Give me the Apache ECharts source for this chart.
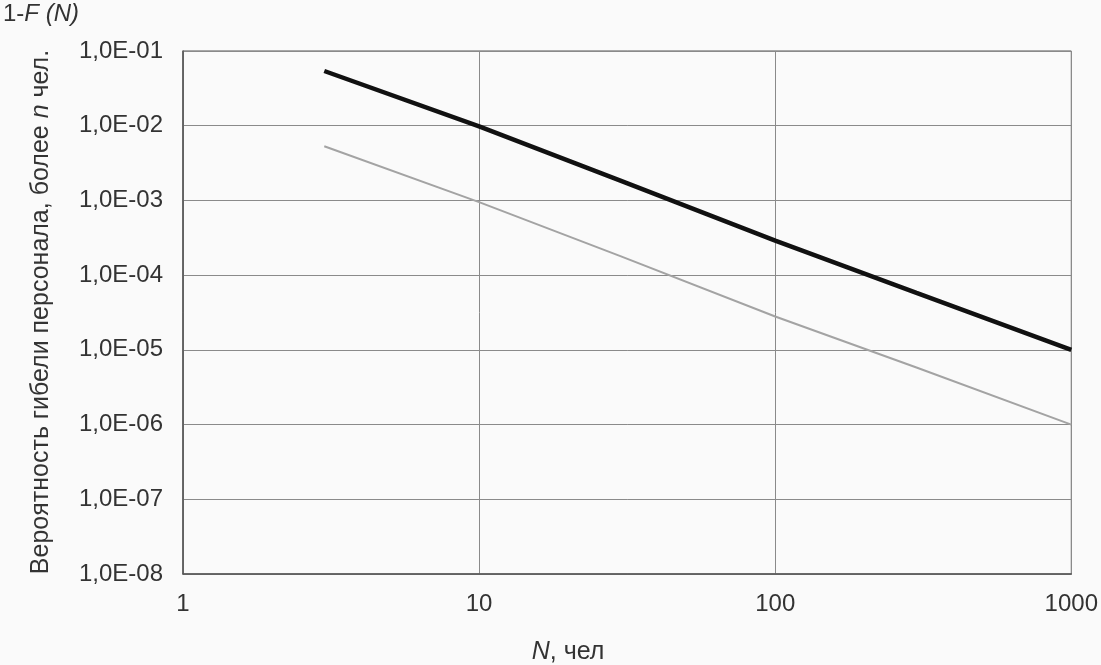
<!DOCTYPE html>
<html>
<head>
<meta charset="utf-8">
<script src="https://cdn.jsdelivr.net/npm/echarts@6/dist/echarts.min.js"></script>
<style>
html,body{margin:0;padding:0;background:#fafafa;}
#c{width:1101px;height:665px;}
</style>
</head>
<body>
<div id="c"></div>
<script>
// Data
const N_values = [3, 10, 30, 100, 300, 1000];
const thickSeries = [0.054, 0.0098, 0.00184, 0.00029, 0.000058, 0.000010];
const thinSeries = [0.0053, 0.00095, 0.00018, 0.000028, 0.0000058, 0.0000010];
const xTicks = [1, 10, 100, 1000];
const yTicks = [1e-8, 1e-7, 1e-6, 1e-5, 1e-4, 1e-3, 1e-2, 1e-1];

const FONT = '"Liberation Sans", Arial, sans-serif';
function fmtY(v) {
  const e = Math.round(Math.log10(v));
  const a = Math.abs(e);
  return '1,0E' + (e < 0 ? '-' : '+') + (a < 10 ? '0' + a : '' + a);
}

const chart = echarts.init(document.getElementById('c'));
chart.setOption({
  backgroundColor: '#fafafa',
  animation: false,
  grid: { left: 183, top: 51, right: 29, bottom: 91, show: true, borderColor: '#555', borderWidth: 1 },
  xAxis: {
    type: 'log', logBase: 10, min: 1, max: 1000,
    axisLine: { show: true, lineStyle: { color: '#555', width: 1.5 } },
    axisTick: { show: false },
    minorTick: { show: false },
    splitLine: { show: true, lineStyle: { color: '#8a8a8a', width: 1 } },
    axisLabel: { color: '#333', fontFamily: FONT, fontSize: 24, margin: 18,
      formatter: v => xTicks.includes(Math.round(v)) ? String(Math.round(v)) : '' }
  },
  yAxis: {
    type: 'log', logBase: 10, min: 1e-8, max: 1e-1,
    axisLine: { show: true, lineStyle: { color: '#555', width: 1.5 } },
    axisTick: { show: false },
    splitLine: { show: true, lineStyle: { color: '#8a8a8a', width: 1 } },
    axisLabel: { color: '#333', fontFamily: FONT, fontSize: 24, margin: 20, formatter: fmtY }
  },
  series: [
    { type: 'line', data: N_values.map((x, i) => [x, thinSeries[i]]), showSymbol: false, symbol: 'none',
      lineStyle: { color: '#a3a3a3', width: 2 } },
    { type: 'line', data: N_values.map((x, i) => [x, thickSeries[i]]), showSymbol: false, symbol: 'none',
      lineStyle: { color: '#111', width: 4.5 } }
  ],
  graphic: [
    { type: 'text', left: 3, top: 2,
      style: { text: '1-{i|F (N)}', fill: '#333', font: '24px ' + FONT,
        rich: { i: { fontStyle: 'italic', fontSize: 24, fontFamily: FONT, fill: '#333' } } } },
    { type: 'text', x: 568, y: 652,
      style: { text: '{i|N}, чел', fill: '#333', font: '25px ' + FONT, align: 'center', verticalAlign: 'middle',
        rich: { i: { fontStyle: 'italic', fontSize: 25, fontFamily: FONT, fill: '#333' } } } },
    { type: 'text', x: 41, y: 312, rotation: Math.PI / 2,
      style: { text: 'Вероятность гибели персонала, более {i|n} чел.', fill: '#333', font: '25px ' + FONT,
        align: 'center', verticalAlign: 'middle',
        rich: { i: { fontStyle: 'italic', fontSize: 25, fontFamily: FONT, fill: '#333' } } } }
  ]
});
</script>
</body>
</html>
